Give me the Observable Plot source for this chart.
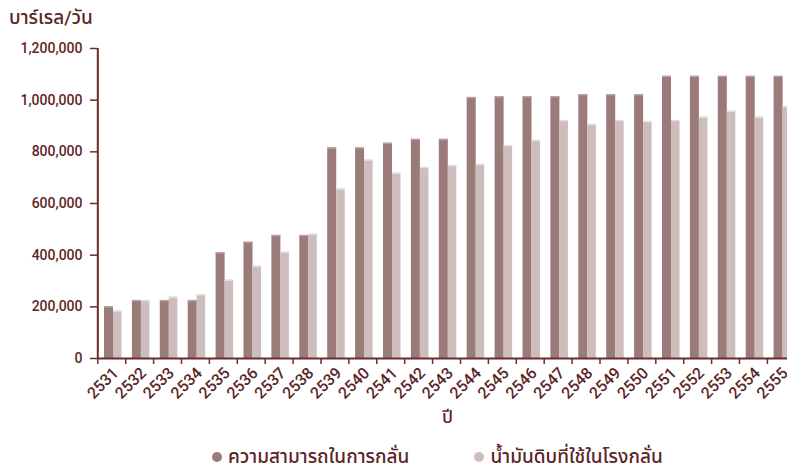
<!DOCTYPE html>
<html><head><meta charset="utf-8">
<script src="https://cdn.jsdelivr.net/npm/d3@7"></script>
<script src="https://cdn.jsdelivr.net/npm/@observablehq/plot@0.6"></script>
<style>
body{margin:0;background:#fff;font-family:Roboto,"Noto Sans Thai","Noto Sans",sans-serif;color:#5b2626;width:787px;overflow:hidden}
#title{height:36px;font-size:19px;font-weight:500;padding-left:9px;line-height:36px}
#legend{display:flex;align-items:center;margin-left:212px;font-size:19px;font-weight:500;height:22px;line-height:22px}
#legend .sw{display:inline-block;width:10px;height:10px;border-radius:50%;margin-right:6px}
#legend .lab{margin-right:65px}
</style></head><body>
<div id="title">บาร์เรล/วัน</div>
<div id="chart"></div>
<div id="legend"></div>
<script>
const years = ["2531","2532","2533","2534","2535","2536","2537","2538","2539","2540","2541","2542","2543","2544","2545","2546","2547","2548","2549","2550","2551","2552","2553","2554","2555"];
const capacity = [200000,224000,224000,224000,409000,450000,476000,476000,815000,815000,833000,848000,848000,1010000,1013000,1013000,1013000,1021000,1021000,1021000,1092000,1092000,1092000,1092000,1092000];
const crudeUsed = [183000,224000,237000,246000,303000,357000,411000,481000,656000,768000,717000,739000,747000,751000,824000,844000,921000,906000,921000,917000,921000,934000,957000,934000,975000];
const seriesNames = ["ความสามารถในการกลั่น","น้ำมันดิบที่ใช้ในโรงกลั่น"];
const yTicks = [0,200000,400000,600000,800000,1000000,1200000];
const xLabel = "ปี";

const darkC = "#9b7a7a", lightC = "#cdbdbd", axisC = "#6b2c2c", textC = "#5b2626";
const data = years.map((y,i)=>({year:y, capacity:capacity[i], crude:crudeUsed[i]}));
const bw = (794.8-97.3)/years.length;

const chart = Plot.plot({
  width:787, height:410, marginTop:12, marginBottom:88, marginLeft:97, marginRight:0,
  style:{color:textC, fontFamily:'Roboto,"Noto Sans Thai","Noto Sans",sans-serif', overflow:"visible"},
  x:{type:"band", domain:years, range:[97.3,794.8], padding:0, round:false, label:null},
  y:{domain:[0,1200000], label:null},
  marks:[
    Plot.barY(data,{x:"year", y:"capacity", fill:darkC, insetLeft:6.7, insetRight:12.2}),
    Plot.barY(data,{x:"year", y:"crude", fill:lightC, insetLeft:15.7, insetRight:3.7}),
    Plot.tickY(data,{x:"year", y:"capacity", stroke:"#bba0a0", strokeWidth:1.5, insetLeft:6.7, insetRight:12.2}),
    Plot.tickY(data,{x:"year", y:"crude", stroke:"#e6dcdc", strokeWidth:1.5, insetLeft:15.7, insetRight:3.7}),
    Plot.ruleY([0],{stroke:axisC, strokeWidth:2}),
    Plot.ruleX([years[0]],{x:d=>d, y1:0, y2:1200000, dx:-bw/2, stroke:axisC, strokeWidth:2}),
    Plot.axisY({ticks:yTicks, tickFormat:d3.format(","), tickSize:7, tickPadding:8, fontSize:14, fontWeight:500, stroke:axisC, strokeWidth:1.5, fill:textC, label:null}),
    Plot.axisX({tickSize:6, tickFormat:()=>"", dx:-bw/2, stroke:axisC, strokeWidth:1.5, label:null}),
    Plot.axisX({tickSize:0, tickRotate:-45, fontSize:16, fontWeight:500, dx:4, fill:textC, label:null}),
    Plot.text([xLabel],{frameAnchor:"bottom", dx:5, dy:64, fontSize:18, fontWeight:500, fill:textC})
  ]
});
document.getElementById("chart").appendChild(chart);

const leg = document.getElementById("legend");
[darkC, lightC].forEach((c,i)=>{
  const sw = document.createElement("span"); sw.className="sw"; sw.style.background=c; leg.appendChild(sw);
  const t = document.createElement("span"); t.className="lab"; t.textContent=seriesNames[i]; leg.appendChild(t);
});
</script>
</body></html>
